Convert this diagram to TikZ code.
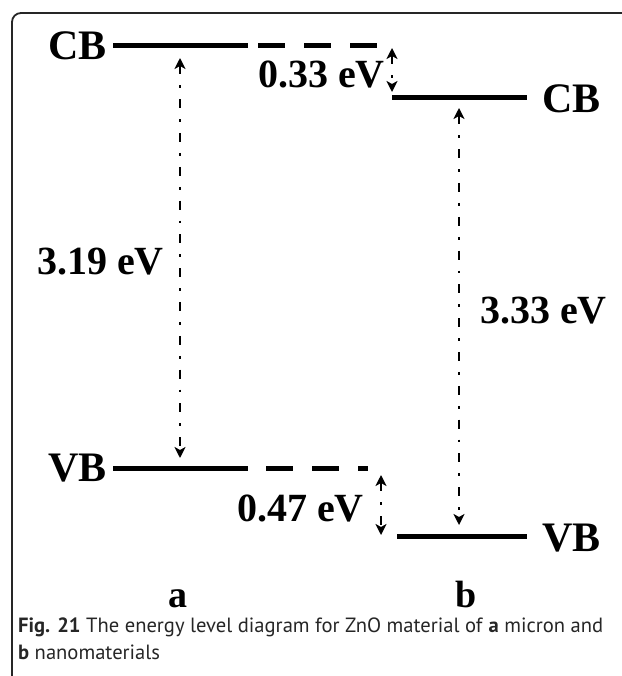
\documentclass[tikz,border=0pt]{standalone}
\usepackage{fontspec}
\setmainfont{Liberation Serif}
\newfontfamily\capfont{PT Sans}
\usetikzlibrary{arrows.meta,positioning}

\tikzset{
  level/.style={line width=5pt},
  shiftlevel/.style={line width=5pt,dash pattern=on 27pt off 19pt},
  gaparrow/.style={line width=2.6pt,dash pattern=on 9pt off 11pt on 2.8pt off 11pt,
    {Stealth[length=11pt,width=11pt,inset=3pt]}-{Stealth[length=11pt,width=11pt,inset=3pt]}},
  band/.style={font=\fontsize{42}{42}\selectfont\bfseries,inner sep=0pt},
  val/.style={font=\fontsize{40}{40}\selectfont\bfseries,inner sep=0pt},
  caption/.style={font=\capfont\fontsize{20.6}{27}\selectfont,text=black!85,inner sep=0pt,anchor=base west}
}

\begin{document}
\begin{tikzpicture}[x=1pt,y=-1pt]
  \useasboundingbox (0,0) rectangle (621,676);
  % frame
  \draw[line width=1.8pt,rounded corners=9pt,black!85] (12,700) -- (12,13) -- (640,13);

  % micron (a)
  \coordinate (cbA) at (113,46);
  \coordinate (cbAend) at (248,46);
  \coordinate (vbA) at (113,468);
  \coordinate (vbAend) at (248,468);
  \draw[level] (cbA) -- (cbAend);
  \draw[level] (vbA) -- (vbAend);
  \draw[shiftlevel] (258,46) -- (378,46);
  \draw[shiftlevel] (266,468) -- (368,468);
  \node[band,anchor=east] (cbAlabel) at (107,46) {CB};
  \node[band,anchor=east] (vbAlabel) at (107,468) {VB};

  % nano (b)
  \coordinate (cbB) at (392,98);
  \coordinate (cbBend) at (527,98);
  \coordinate (vbB) at (397,536);
  \coordinate (vbBend) at (527,536);
  \draw[level] (cbB) -- (cbBend);
  \draw[level] (vbB) -- (vbBend);
  \node[band,anchor=west] (cbBlabel) at (542,99) {CB};
  \node[band,anchor=west] (vbBlabel) at (542,538) {VB};

  % gaps
  \coordinate (aTop) at (180,58);
  \coordinate (aBot) at (180,458);
  \coordinate (bTop) at (459,108);
  \coordinate (bBot) at (459,525);
  \coordinate (cbShiftTop) at (392,48);
  \coordinate (cbShiftBot) at (392,92);
  \coordinate (vbShiftTop) at (381,475);
  \coordinate (vbShiftBot) at (381,535);
  \draw[gaparrow] (aTop) -- (aBot);
  \draw[gaparrow] (bTop) -- (bBot);
  \draw[gaparrow] (cbShiftTop) -- (cbShiftBot);
  \draw[gaparrow] (vbShiftTop) -- (vbShiftBot);

  \node[val,anchor=east] (gapA) at (164,262) {3.19 eV};
  \node[val,anchor=west] (gapB) at (480,311) {3.33 eV};
  \node[val,anchor=east] (cbShift) at (385,75) {0.33 eV};
  \node[val,anchor=east] (vbShift) at (364,508) {0.47 eV};

  \node[val,anchor=base,font=\fontsize{38}{38}\selectfont\bfseries] (labA) at (178,607) {a};
  \node[val,anchor=base,font=\fontsize{38}{38}\selectfont\bfseries] (labB) at (466,607) {b};

  % caption
  \node[caption] (cap1) at (18,632) {\textbf{Fig. 21} The energy level diagram for ZnO material of \textbf{a} micron and};
  \node[caption] (cap2) at (18,659) {\textbf{b} nanomaterials};
\end{tikzpicture}
\end{document}
